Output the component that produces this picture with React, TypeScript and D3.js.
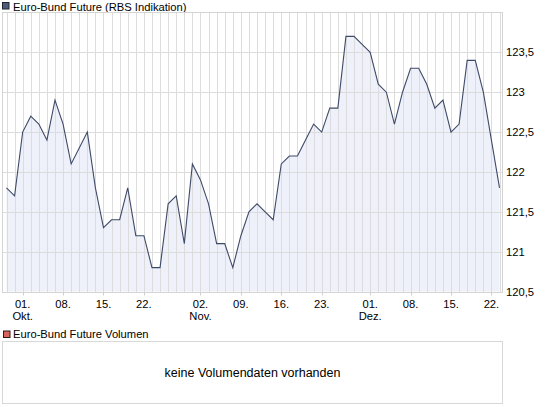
import React from "react";
import * as d3 from "d3";

const prices: number[] = [
  121.8, 121.7, 122.5, 122.7, 122.6, 122.4, 122.9, 122.6, 122.1, 122.3,
  122.5, 121.8, 121.3, 121.4, 121.4, 121.8, 121.2, 121.2, 120.8, 120.8,
  121.6, 121.7, 121.1, 122.1, 121.9, 121.6, 121.1, 121.1, 120.8, 121.2,
  121.5, 121.6, 121.5, 121.4, 122.1, 122.2, 122.2, 122.4, 122.6, 122.5,
  122.8, 122.8, 123.7, 123.7, 123.6, 123.5, 123.1, 123.0, 122.6, 123.0,
  123.3, 123.3, 123.1, 122.8, 122.9, 122.5, 122.6, 123.4, 123.4, 123.0,
  122.4, 121.8,
];

const xTickIndex: number[] = [2, 7, 12, 17, 24, 29, 34, 39, 45, 50, 55, 60];
const xTickDay: string[] = ["01.", "08.", "15.", "22.", "02.", "09.", "16.", "23.", "01.", "08.", "15.", "22."];
const xTickMonth: string[] = ["Okt.", "", "", "", "Nov.", "", "", "", "Dez.", "", "", ""];

const yTicks: number[] = [120.5, 121, 121.5, 122, 122.5, 123, 123.5];
const yTickLabels: string[] = ["120,5", "121", "121,5", "122", "122,5", "123", "123,5"];

const seriesTitle = "Euro-Bund Future (RBS Indikation)";
const volumeTitle = "Euro-Bund Future Volumen";
const noVolumeText = "keine Volumendaten vorhanden";

const W = 545;
const H = 407;
const FONT = "'Liberation Sans', Arial, sans-serif";

export default function App() {
  const plotLeft = 2.5;
  const plotRight = 502.5;
  const plotTop = 12.5;
  const plotBottom = 292.5;

  const x = d3.scaleLinear().domain([0, prices.length - 1]).range([6.5, 499.5]);
  const y = d3.scaleLinear().domain([120.5, 124]).range([291.5, 12.5]);

  const line = d3
    .line<number>()
    .x((_, i) => x(i))
    .y((d) => y(d));
  const area = d3
    .area<number>()
    .x((_, i) => x(i))
    .y0(plotBottom - 1)
    .y1((d) => y(d));

  const snap = (v: number) => Math.round(v) + 0.5;

  return (
    <div style={{ position: "fixed", left: 0, top: 0, width: W, height: H, background: "#fff" }}>
      <svg width={W} height={H} style={{ display: "block", fontFamily: FONT }}>
        <rect x={0} y={0} width={W} height={H} fill="#ffffff" />
        {/* Legend 1 */}
        <rect x={2.5} y={2.5} width={6.5} height={6.5} fill="#4e5a78" stroke="#1f2430" strokeWidth={1} />
        <text x={13} y={10.5} fontSize={11.2} fill="#000">{seriesTitle}</text>

        <rect x={plotLeft} y={plotTop} width={plotRight - plotLeft} height={plotBottom - plotTop} fill="#ffffff" />

        <path d={area(prices) || ""} fill="#eef1fa" />

        {prices.map((_, i) => (
          <line key={"vg" + i} x1={snap(x(i))} x2={snap(x(i))} y1={plotTop} y2={plotBottom} stroke="#dcdcdc" strokeWidth={1} />
        ))}
        {yTicks.map((t) => (
          <line key={"hg" + t} x1={plotLeft} x2={plotRight} y1={snap(y(t))} y2={snap(y(t))} stroke="#dcdcdc" strokeWidth={1} />
        ))}

        <rect x={plotLeft} y={plotTop} width={plotRight - plotLeft} height={plotBottom - plotTop} fill="none" stroke="#d4d4d4" strokeWidth={1} />

        <path d={line(prices) || ""} fill="none" stroke="#3f4a68" strokeWidth={1.1} />

        {yTicks.map((t, i) => (
          <text key={"yl" + t} x={506} y={y(t) + 4} fontSize={11.2} fill="#000">{yTickLabels[i]}</text>
        ))}

        {xTickIndex.map((idx, i) => (
          <g key={"xt" + i}>
            <line x1={snap(x(idx))} x2={snap(x(idx))} y1={plotBottom} y2={plotBottom + 3} stroke="#cfcfcf" />
            <text x={x(idx)} y={308} fontSize={11.2} textAnchor="middle" fill="#000">{xTickDay[i]}</text>
            {xTickMonth[i] ? (
              <text x={x(idx)} y={320} fontSize={11.2} textAnchor="middle" fill="#000">{xTickMonth[i]}</text>
            ) : null}
          </g>
        ))}

        <rect x={3.5} y={331} width={6.5} height={6.5} fill="#d9645c" stroke="#2a1a1a" strokeWidth={1} />
        <text x={13} y={338} fontSize={11.2} fill="#000">{volumeTitle}</text>

        <rect x={2.5} y={341.5} width={500} height={62} fill="#ffffff" stroke="#d8d8d8" strokeWidth={1} />
        <text x={252.5} y={377} fontSize={12.5} textAnchor="middle" fill="#000">{noVolumeText}</text>
      </svg>
    </div>
  );
}
